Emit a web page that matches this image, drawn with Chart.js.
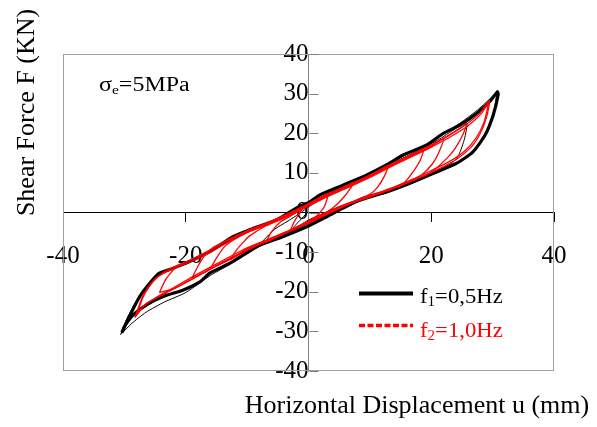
<!DOCTYPE html>
<html>
<head>
<meta charset="utf-8">
<script src="https://cdn.jsdelivr.net/npm/chart.js@4/dist/chart.umd.min.js"></script>
<style>
  html, body { margin: 0; padding: 0; background: #fff; }
  #wrap { width: 597px; height: 427px; }
</style>
</head>
<body>
<div id="wrap"><canvas id="c" width="597" height="427"></canvas></div>
<script>
// ---- Tick values / labels ----
const xTicks = [-40, -20, 0, 20, 40];
const yTicks = [-40, -30, -20, -10, 0, 10, 20, 30, 40];

// ---- Text ----
const xTitle = 'Horizontal Displacement u (mm)';
const yTitle = 'Shear Force F (KN)';
const noteMain = 'σ', noteSub = 'e', noteRest = '=5MPa';
const legend1 = ['f', '1', '=0,5Hz'];
const legend2 = ['f', '2', '=1,0Hz'];

// ---- f1 = 0.5 Hz (black) : outer thick loop ----
const blackOuterU = [-30.4, -29.2, -27.5, -25.9, -24.3, -22.1, -19.4, -16.1, -12.3, -9.0, -5.2, -2.0, 0.2, 1.8, 5.6, 9.5, 12.7, 15.4, 19.2, 22.0, 24.7, 27.4, 29.3, 30.4, 30.8, 30.9, 30.1, 28.8, 26.8, 24.1, 20.3, 16.5, 12.7, 8.9, 5.6, 2.4, -0.3, -4.2, -8.5, -12.8, -16.1, -17.7, -20.5, -23.7, -26.4, -28.6, -30.0, -30.4];
const blackOuterF = [-30.3, -26.3, -21.2, -17.9, -15.3, -14.1, -12.4, -9.9, -6.1, -4.0, -1.9, 1.1, 2.7, 4.4, 6.9, 9.5, 12.0, 14.5, 17.0, 20.0, 22.1, 25.0, 27.6, 29.7, 30.5, 29.7, 24.6, 19.6, 15.3, 12.4, 9.9, 7.4, 5.2, 3.6, 1.1, -1.5, -3.6, -6.1, -8.6, -12.8, -15.3, -17.5, -19.6, -21.2, -23.3, -25.9, -28.8, -30.3];

// ---- f1 = 0.5 Hz (black) : thin second cycle ----
const blackThinU = [-30.6, -29.8, -28.5, -26.8, -24.5, -21.5, -18, -14, -10, -6, -2, 0, 3, 7, 11, 15, 19, 22, 25, 27.5, 29.5, 30.6, 30.5, 29.8, 28.5, 26.5, 23.5, 20, 16, 12, 8, 4, 0, -4, -8, -12, -16, -20, -23.5, -26.5, -28.8, -30.6];
const blackThinF = [-30.8, -27.5, -23.5, -19.5, -16.0, -13.6, -11.2, -8.0, -4.9, -2.4, 0.6, 2.3, 4.6, 7.6, 10.6, 13.9, 16.9, 19.8, 22.9, 25.8, 28.6, 30.2, 28.0, 23.0, 19.0, 15.0, 11.8, 9.4, 6.8, 4.6, 2.6, 0.0, -2.8, -5.6, -8.6, -12.4, -15.9, -20.2, -22.6, -25.2, -28.0, -30.8];

// ---- f1 = 0.5 Hz (black) : thin inner cycle ----
const blackInnerU = [-8.5, -7.2, -5.5, -3.5, -1.5, 1, 5, 9, 13, 17, 21, 24, 25.8, 25.4, 24.5, 23.5, 20, 16, 12, 8, 4, 0, -3.0, -2.0, -0.8, -0.3];
const blackInnerF = [-9.0, -6.8, -4.2, -2.3, -0.3, 2.4, 5.5, 8.7, 11.9, 15.0, 18.2, 21.2, 22.6, 18.5, 14.6, 12.6, 10.0, 7.2, 5.0, 3.0, 0.8, -1.9, -4.8, -3.0, -1.0, -0.2];

// ---- f2 = 1.0 Hz (red) : cycles of increasing amplitude ----
const redC1U = [-3.0, -2.2, -1.0, 0.5, 2.0, 3.2, 2.6, 1.5, 0, -1.5, -3.0];
const redC1F = [-4.6, -2.0, 0.8, 2.6, 3.8, 4.8, 1.5, -0.6, -2.6, -3.6, -4.6];
const redC2U = [-7.0, -6.0, -4.5, -2.5, 0, 2.5, 5, 7.3, 6.8, 5.6, 4.0, 2, 0, -2.5, -5, -7.0];
const redC2F = [-7.6, -4.8, -2.3, -0.5, 1.9, 3.9, 5.7, 7.6, 6.0, 3.6, 1.2, -0.8, -2.4, -4.1, -6.0, -7.6];
const redC3U = [-12.8, -11.8, -10.5, -9.6, -7, -4, -1, 2, 5, 8, 11, 13.0, 12.3, 11.2, 10, 8, 5, 2, -1, -4, -7, -10, -12.8];
const redC3F = [-12.0, -9.6, -7.3, -5.9, -3.4, -1.2, 1.0, 3.5, 5.6, 7.8, 10.1, 11.9, 9.0, 6.3, 4.6, 3.2, 1.4, -0.9, -3.2, -5.3, -7.2, -9.1, -12.0];
const redC4U = [-16.0, -15.0, -13.8, -12.5, -10, -7, -4, -1, 2, 5, 8, 11, 14, 17, 20, 22.0, 21.3, 20.2, 18.5, 16, 13, 10, 7, 4, 1, -2, -5, -8, -11, -14, -16.0];
const redC4F = [-14.2, -11.5, -8.8, -7.2, -5.0, -3.0, -1.0, 1.1, 3.4, 5.5, 7.6, 9.8, 12.2, 14.4, 16.7, 18.6, 15.4, 12.3, 9.6, 7.6, 5.7, 4.2, 2.5, 0.6, -1.6, -3.8, -5.9, -8.0, -10.4, -12.8, -14.2];
const redC5U = [-19.0, -18.0, -16.8, -15.5, -13, -10, -7, -4, -1, 2, 5, 8, 11, 14, 17, 18.8, 18.2, 17.0, 15.5, 13, 10, 7, 4, 1, -2, -5, -8, -11, -14, -17, -19.0];
const redC5F = [-16.6, -13.5, -10.6, -8.8, -6.9, -4.8, -2.9, -0.8, 1.3, 3.6, 5.7, 7.8, 10.1, 12.5, 14.6, 16.2, 13.2, 10.2, 7.4, 5.6, 4.0, 2.3, 0.3, -2.0, -4.0, -6.1, -7.9, -10.2, -12.6, -15.2, -16.6];
const redC6U = [-24.3, -23.3, -22.2, -21.5, -19, -16, -13, -10, -7, -4, -1, 2, 5, 8, 11, 14, 17, 20, 23, 25.0, 25.8, 25.2, 23.9, 22.5, 20, 17, 14, 11, 8, 5, 2, -1, -4, -7, -10, -13, -16, -19, -22, -24.3];
const redC6F = [-20.2, -17.0, -14.8, -13.7, -11.8, -9.5, -6.8, -4.6, -2.8, -0.8, 1.4, 3.8, 5.9, 7.9, 10.2, 12.6, 14.8, 17.0, 19.6, 21.6, 22.5, 19.8, 16.2, 13.6, 10.2, 8.1, 6.3, 4.6, 3.0, 1.3, -0.9, -3.2, -5.3, -7.4, -9.4, -11.8, -14.2, -16.8, -19.2, -20.2];
const redC7U = [-28.3, -27.6, -27.0, -25.5, -24, -22, -19, -16, -13, -10, -7, -4, -2, 0, 2, 5, 8, 11, 14, 17, 20, 23, 26, 28, 29.5, 29.0, 28.0, 26.5, 24, 21, 18, 15, 12, 9, 6, 3, 0, -3, -6, -9, -12, -15, -18, -21, -24, -26.5, -28.3];
const redC7F = [-26.5, -23.5, -21.0, -17.5, -15.5, -13.8, -11.8, -9.5, -6.8, -4.6, -2.8, -0.8, 0.6, 2.2, 3.8, 5.9, 7.9, 10.2, 12.6, 14.8, 17.0, 19.6, 22.6, 25.2, 28.2, 24.0, 20.0, 16.5, 13.3, 10.8, 8.7, 6.8, 5.0, 3.5, 1.8, -0.4, -2.6, -4.6, -6.8, -8.6, -11.0, -13.4, -16.0, -18.5, -20.9, -23.0, -26.5];
const redC8U = [-28.0, -27.0, -26.0, -24.5, -22, -19, -16, -13, -10, -7, -4, -1, 2, 5, 8, 11, 14, 17, 20, 23, 26, 28.2, 29.3, 28.6, 27.3, 25.5, 23, 20, 17, 14, 11, 8, 5, 2, -1, -4, -7, -10, -13, -16, -19, -22, -25, -27, -28.0];
const redC8F = [-25.8, -21.5, -18.8, -16.2, -14.2, -12.3, -10.0, -7.4, -5.1, -3.3, -1.4, 0.8, 3.2, 5.3, 7.4, 9.6, 12.0, 14.2, 16.5, 19.0, 21.9, 25.0, 27.6, 22.8, 18.8, 15.6, 12.9, 10.6, 8.4, 6.5, 4.8, 3.2, 1.5, -0.6, -2.9, -5.1, -7.0, -8.9, -11.3, -13.8, -16.3, -19.0, -21.6, -23.8, -25.8];

// ---- build datasets ----
const SERIF = '"Liberation Serif", "Times New Roman", serif';
function pts(u, f) { return u.map((v, i) => ({ x: v, y: f[i] })); }
function lineDs(u, f, color, width, order) {
  return { data: pts(u, f), showLine: true, borderColor: color, borderWidth: width,
           pointRadius: 0, tension: 0.2, fill: false, order: order };
}
const redCycles = [[redC1U, redC1F], [redC2U, redC2F], [redC3U, redC3F], [redC4U, redC4F],
                   [redC5U, redC5F], [redC6U, redC6F], [redC7U, redC7F], [redC8U, redC8F]];
const datasets = [];
redCycles.forEach(c => datasets.push(lineDs(c[0], c[1], '#ff0000', 1.3, 0)));
datasets.push(lineDs(blackInnerU, blackInnerF, '#000000', 1, 1));
datasets.push(lineDs(blackThinU, blackThinF, '#000000', 1, 2));
datasets.push(lineDs(blackOuterU, blackOuterF, '#000000', 3.2, 3));

function subText(ctx, parts, x, y, size, color, sx) {
  ctx.save();
  ctx.translate(x, y);
  ctx.scale(sx, 1);
  ctx.fillStyle = color;
  ctx.textAlign = 'left';
  ctx.textBaseline = 'alphabetic';
  ctx.font = size + 'px ' + SERIF;
  ctx.fillText(parts[0], 0, 0);
  let cx = ctx.measureText(parts[0]).width;
  ctx.font = Math.round(size * 0.65) + 'px ' + SERIF;
  ctx.fillText(parts[1], cx, size * 0.15);
  cx += ctx.measureText(parts[1]).width;
  ctx.font = size + 'px ' + SERIF;
  ctx.fillText(parts[2], cx, 0);
  ctx.restore();
}

const decor = {
  id: 'decor',
  beforeDatasetsDraw(chart) {
    const ctx = chart.ctx, a = chart.chartArea;
    ctx.save();
    ctx.strokeStyle = '#a0a0a0';
    ctx.lineWidth = 1;
    ctx.strokeRect(Math.round(a.left) + 0.5, Math.round(a.top) + 0.5,
                   Math.round(a.right - a.left) - 1, Math.round(a.bottom - a.top) - 1);
    // inward tick marks on the vertical axis
    const x0 = Math.round(chart.scales.x.getPixelForValue(0)) + 0.5;
    ctx.strokeStyle = '#808080';
    yTicks.forEach(v => {
      const py = Math.round(chart.scales.y.getPixelForValue(v)) + 0.5;
      ctx.beginPath(); ctx.moveTo(x0, py); ctx.lineTo(x0 + 9, py); ctx.stroke();
    });
    ctx.restore();
  },
  afterDraw(chart) {
    const ctx = chart.ctx;
    ctx.save();
    // axis titles
    ctx.fillStyle = '#000';
    ctx.font = '26px ' + SERIF;
    ctx.textAlign = 'center';
    ctx.textBaseline = 'alphabetic';
    ctx.fillText(xTitle, 417, 413);
    ctx.save();
    ctx.translate(33.5, 112.5);
    ctx.rotate(-Math.PI / 2);
    ctx.fillText(yTitle, 0, 0);
    ctx.restore();
    // annotation
    subText(ctx, [noteMain, noteSub, noteRest], 99, 91, 20, '#000', 1.2);
    // legend
    ctx.strokeStyle = '#000';
    ctx.lineWidth = 4;
    ctx.beginPath(); ctx.moveTo(359, 293.5); ctx.lineTo(413, 293.5); ctx.stroke();
    ctx.strokeStyle = '#ff0000';
    ctx.lineWidth = 3.5;
    ctx.setLineDash([6, 2.5]);
    ctx.beginPath(); ctx.moveTo(359, 325.5); ctx.lineTo(413, 325.5); ctx.stroke();
    ctx.setLineDash([]);
    subText(ctx, legend1, 420, 303, 21, '#000', 1.08);
    subText(ctx, legend2, 420, 337, 21, '#ff0000', 1.08);
    ctx.restore();
  }
};

new Chart(document.getElementById('c'), {
  type: 'scatter',
  data: { datasets: datasets },
  options: {
    responsive: false,
    animation: false,
    events: [],
    layout: { padding: { left: 63, right: 43, top: 54, bottom: 56 } },
    plugins: { legend: { display: false }, tooltip: { enabled: false } },
    scales: {
      x: {
        type: 'linear', min: -40, max: 40, position: { y: 0 },
        afterBuildTicks: s => { s.ticks = xTicks.map(v => ({ value: v })); },
        grid: { drawOnChartArea: false, drawTicks: true, tickLength: 9, color: '#000' },
        border: { display: true, color: '#000', width: 1 },
        ticks: { padding: 20, color: '#000', maxRotation: 0, autoSkip: false,
                 font: { family: SERIF, size: 25 }, callback: v => String(v) }
      },
      y: {
        type: 'linear', min: -40, max: 40, position: { x: 0 },
        afterBuildTicks: s => { s.ticks = yTicks.map(v => ({ value: v })); },
        grid: { drawOnChartArea: false, drawTicks: false },
        border: { display: true, color: '#808080', width: 1 },
        ticks: { padding: 23, color: '#000', autoSkip: false,
                 font: { family: SERIF, size: 25 }, callback: v => String(v) }
      }
    }
  },
  plugins: [decor]
});
</script>
</body>
</html>
